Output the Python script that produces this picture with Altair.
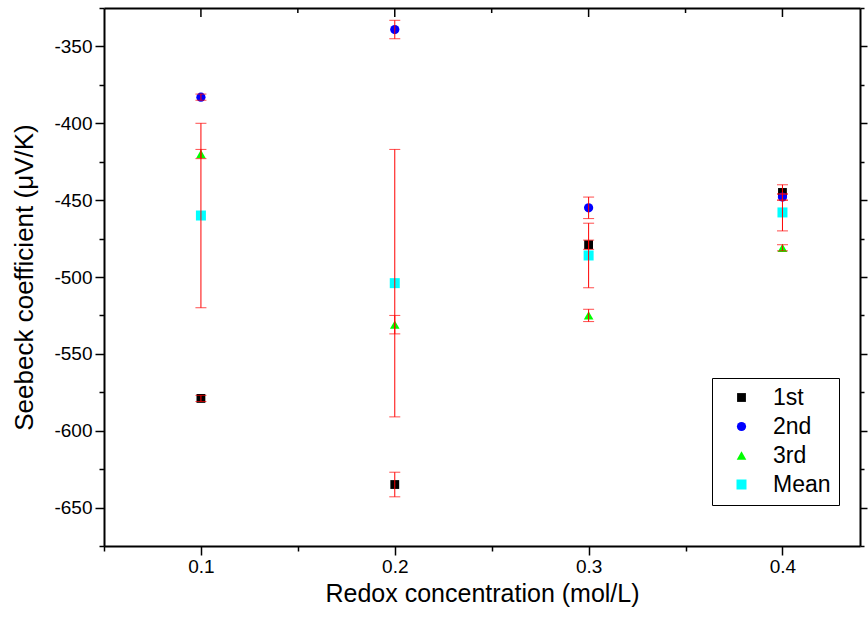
import altair as alt
import pandas as pd

# ---- data ----
conc = [0.1, 0.2, 0.3, 0.4]
series_names = ["1st", "2nd", "3rd", "Mean"]
first = [-579, -635, -479, -445]
first_err = [2, 8, 3, 5]
second = [-383, -339, -455, -448]
second_err = [2, 6, 7, 2]
third = [-420, -531, -525, -481]
third_err = [3, 6, 4, 2]
mean = [-460, -504, -486, -458]
mean_err = [60, 87, 21, 12]

x_ticks = [0.05, 0.1, 0.15, 0.2, 0.25, 0.3, 0.35, 0.4]
x_major = [0.1, 0.2, 0.3, 0.4]
x_minor = [0.15, 0.25, 0.35]
y_ticks = [-675, -650, -625, -600, -575, -550, -525, -500, -475, -450, -425, -400, -375, -350, -325]

rows = []
for name, vals, errs in zip(series_names, [first, second, third, mean],
                            [first_err, second_err, third_err, mean_err]):
    for c, v, e in zip(conc, vals, errs):
        rows.append(dict(conc=c, series=name, value=v, lo=v - e, hi=v + e))
df = pd.DataFrame(rows)

FONT = "Liberation Sans, Arial, Helvetica, sans-serif"
x_scale = alt.Scale(domain=[0.05, 0.44], nice=False, zero=False)
y_scale = alt.Scale(domain=[-675, -325], nice=False, zero=False)

major_x = "abs(datum.value*10 - round(datum.value*10)) < 0.001"
major_y = "datum.value % 50 === 0"

common_axis = dict(domainColor="black", domainWidth=2, tickColor="black", tickWidth=1.5,
                   grid=False, labelFont=FONT, labelColor="black", titleFont=FONT,
                   titleColor="black", titleFontWeight="normal")

x_axis = alt.Axis(orient="bottom", values=x_ticks, title="Redox concentration (mol/L)",
                  labelExpr=f"{major_x} ? format(datum.value, '.1f') : ''",
                  tickSize={"condition": {"test": major_x, "value": 9}, "value": 5},
                  labelFontSize=19, titleFontSize=25, labelPadding=2, titlePadding=5,
                  labelFlush=False, labelOverlap=False, **common_axis)
y_axis = alt.Axis(orient="left", values=y_ticks, title="Seebeck coefficient (μV/K)",
                  labelExpr=f"{major_y} ? '' + datum.value : ''",
                  tickSize={"condition": {"test": major_y, "value": 9}, "value": 5},
                  labelFontSize=19, titleFontSize=26, labelPadding=3, titlePadding=16,
                  labelFlush=False, labelOverlap=False, **common_axis)
x_top = alt.Axis(orient="top", values=x_ticks, labels=False, ticks=False, title=None,
                 **common_axis)
y_right = alt.Axis(orient="right", values=y_ticks, labels=False, title=None,
                   tickSize={"condition": {"test": major_y, "value": 7}, "value": 4},
                   **common_axis)

color_scale = alt.Scale(domain=series_names, range=["#000000", "#0000FF", "#00FF00", "#00FFFF"])
shape_scale = alt.Scale(domain=series_names, range=["square", "circle", "triangle-up", "square"])
size_scale = alt.Scale(domain=series_names, range=[78, 100, 150, 70])

legend = alt.Legend(title=None, orient="none", legendX=608, legendY=370,
                    fillColor="white", strokeColor="black", padding=8,
                    labelFont=FONT, labelFontSize=23, labelColor="black",
                    rowPadding=5, symbolOffset=10, labelOffset=20, symbolStrokeWidth=0)

points = alt.Chart(df).mark_point(filled=True, opacity=1).encode(
    x=alt.X("conc:Q", scale=x_scale, axis=x_axis),
    y=alt.Y("value:Q", scale=y_scale, axis=y_axis),
    color=alt.Color("series:N", scale=color_scale, legend=legend),
    shape=alt.Shape("series:N", scale=shape_scale, legend=legend),
    size=alt.Size("series:N", scale=size_scale, legend=legend),
)

frame = alt.Chart(df).mark_point(opacity=0).encode(
    x=alt.X("conc:Q", scale=x_scale, axis=x_top),
    y=alt.Y("value:Q", scale=y_scale, axis=y_right),
)

err_rule = alt.Chart(df).mark_rule(color="#FF0000", strokeWidth=1).encode(
    x=alt.X("conc:Q", scale=x_scale, axis=None),
    y=alt.Y("lo:Q", scale=y_scale, axis=None),
    y2="hi:Q",
)
cap_lo = alt.Chart(df).mark_tick(color="#FF0000", size=11, thickness=1, orient="horizontal").encode(
    x=alt.X("conc:Q", scale=x_scale, axis=None),
    y=alt.Y("lo:Q", scale=y_scale, axis=None),
)
cap_hi = alt.Chart(df).mark_tick(color="#FF0000", size=11, thickness=1, orient="horizontal").encode(
    x=alt.X("conc:Q", scale=x_scale, axis=None),
    y=alt.Y("hi:Q", scale=y_scale, axis=None),
)

top_major = alt.Chart(pd.DataFrame({"t": x_major})).mark_rule(color="black", strokeWidth=1.5).encode(
    x=alt.X("t:Q", scale=x_scale, axis=None), y=alt.value(0), y2=alt.value(9))
top_minor = alt.Chart(pd.DataFrame({"t": x_minor})).mark_rule(color="black", strokeWidth=1.5).encode(
    x=alt.X("t:Q", scale=x_scale, axis=None), y=alt.value(0), y2=alt.value(5))

chart = alt.layer(points, frame, err_rule, cap_lo, cap_hi, top_major, top_minor).resolve_axis(
    x="independent", y="independent"
).properties(
    width=756, height=538,
    autosize=alt.AutoSizeParams(type="none"),
    padding={"left": 104, "top": 8, "right": 8, "bottom": 74},
    background="white",
).configure_view(stroke=None)

chart.save("out.html", embed_options={"renderer": "svg", "actions": False})
